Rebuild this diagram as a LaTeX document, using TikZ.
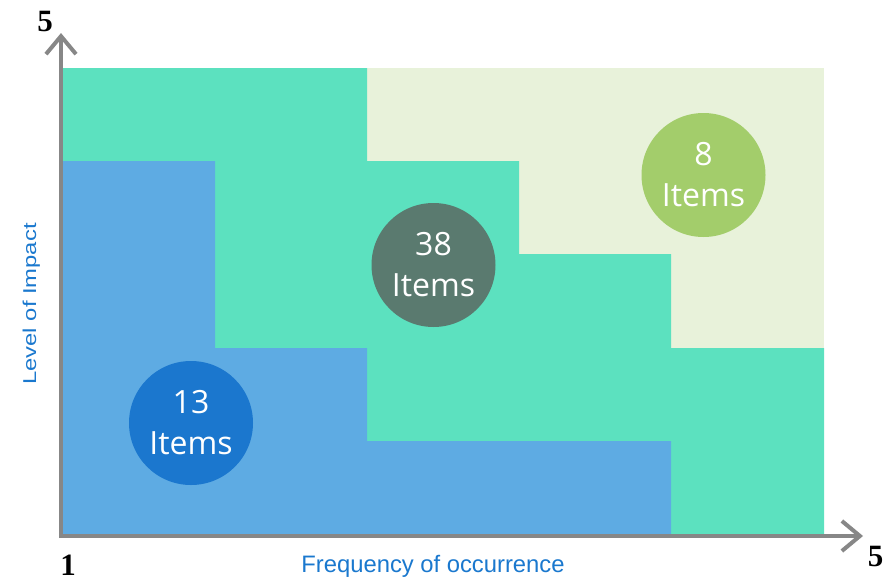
\documentclass[tikz,border=0pt]{standalone}
\usepackage{fontspec}
\setmainfont{Liberation Sans}
\newfontfamily\circfont{Open Sans}
\newfontfamily\numfont{Liberation Serif}
\usetikzlibrary{arrows.meta}
\definecolor{teal1}{HTML}{5CE1BF}
\definecolor{blue1}{HTML}{5EABE3}
\definecolor{light1}{HTML}{E8F2DA}
\definecolor{cdblue}{HTML}{1B77CE}
\definecolor{cgray}{HTML}{5A7A6F}
\definecolor{cgreen}{HTML}{A3CD6B}
\definecolor{axisgray}{HTML}{878787}
\definecolor{labblue}{HTML}{1A78CE}
\tikzset{
  bubble/.style={circle, minimum size=124pt, inner sep=0pt, text=white, align=center,
    font=\circfont\fontsize{32}{41}\selectfont},
  axisline/.style={draw=axisgray, line width=4pt, -{Straight Barb[length=18pt,width=30pt,line width=4pt]}},
  axlabel/.style={text=labblue, inner sep=0pt, font=\fontsize{23.8}{28}\selectfont},
  endnum/.style={inner sep=0pt, font=\numfont\bfseries\fontsize{31}{34}\selectfont}
}
\begin{document}
\begin{tikzpicture}[x=1pt,y=-1pt]
\useasboundingbox (0,0) rectangle (889,576);
% regions
\fill[light1] (62,68) rectangle (824,535);
\fill[teal1] (62,68) -- (367,68) -- (367,161) -- (519,161) -- (519,254) -- (671,254) -- (671,348) -- (824,348) -- (824,535) -- (62,535) -- cycle;
\fill[blue1] (62,161) -- (215,161) -- (215,348) -- (367,348) -- (367,441) -- (671,441) -- (671,535) -- (62,535) -- cycle;
% bubbles
\node[bubble, fill=cdblue] (b13) at (191,423) {13\\Items};
\node[bubble, fill=cgray] (b38) at (433.5,265) {38\\Items};
\node[bubble, fill=cgreen] (b8) at (703.5,175) {8\\Items};
% axes
\coordinate (origin) at (61,536);
\coordinate (ytip) at (61,33);
\coordinate (xtip) at (863,536);
\draw[axisline] (61,538) -- (ytip);
\draw[axisline] (59,536) -- (xtip);
% labels
\node[axlabel, anchor=base] (xlab) at (433,572) {Frequency of occurrence};
\node[axlabel, anchor=base, rotate=90] (ylab) at (36,304) {\scalebox{1.28}[1]{\fontsize{18.6}{22}\selectfont Level of Impact}};
\node[endnum] (n5top) at (45,21.5) {5};
\node[endnum] (n1) at (68,565) {1};
\node[endnum] (n5right) at (875.5,556.5) {5};
\end{tikzpicture}
\end{document}
